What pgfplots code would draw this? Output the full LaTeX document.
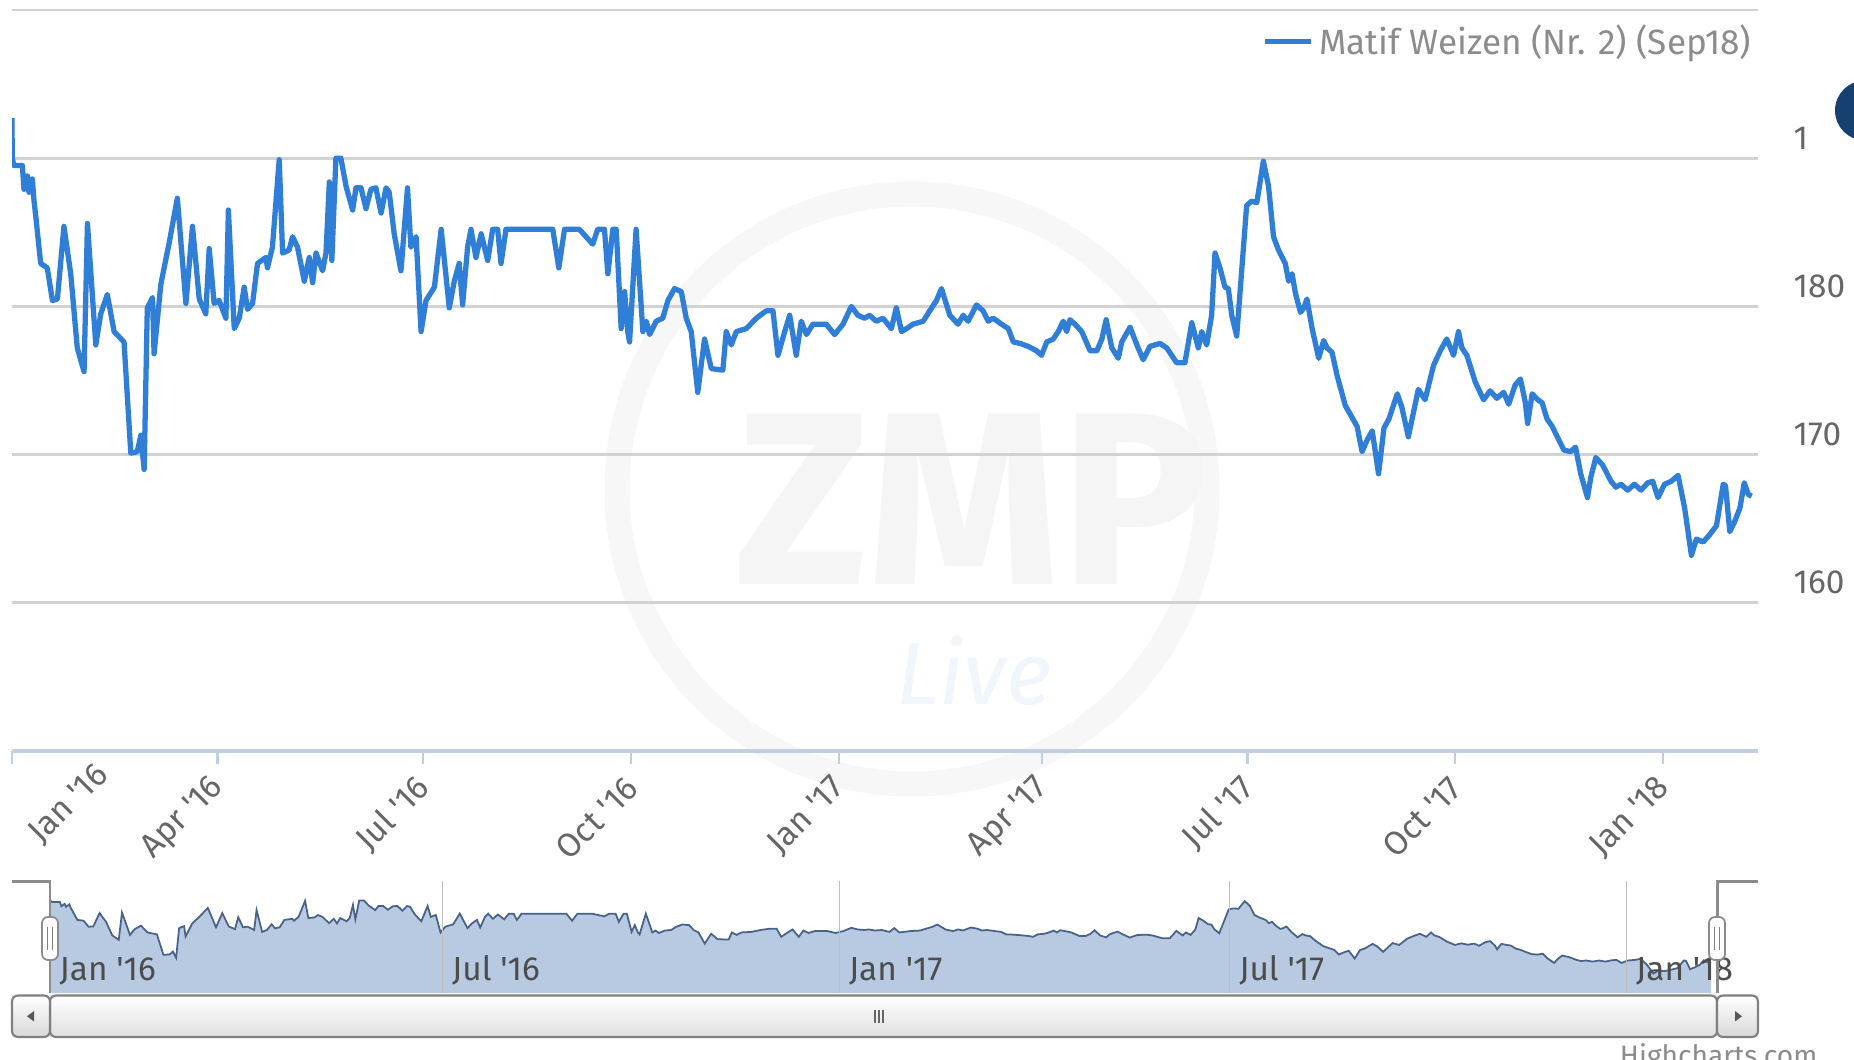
\documentclass[border=0pt]{standalone}
\usepackage{fontspec}
\setmainfont{Fira Sans}[Ligatures=TeXOff]
\usepackage{pgfplots}
\usepackage{pgfplotstable}
\pgfplotsset{compat=1.18}

\definecolor{hcblue}{RGB}{47,126,216}
\definecolor{gridgray}{RGB}{210,210,210}
\definecolor{axisblue}{RGB}{192,208,224}
\definecolor{labelgray}{RGB}{102,102,102}
\definecolor{navfill}{RGB}{184,201,226}
\definecolor{navline}{RGB}{72,98,138}
\definecolor{navy}{RGB}{22,64,112}

% day = days since 1 Jan 2016, price in EUR/t
\pgfplotstableread{
day price
0 192.7
0.1 190.0
0.9 189.5
4.6 189.5
5.3 187.9
6.8 188.8
7.5 187.7
9.0 188.6
9.7 187.2
10.5 186.1
12.7 182.9
15.6 182.6
17.9 180.4
20.1 180.5
23.0 185.4
26.0 182.2
28.9 177.2
31.9 175.6
33.4 185.6
37.1 177.4
39.3 179.5
42.2 180.8
45.2 178.3
49.6 177.6
52.6 170.1
55.5 170.2
57.0 171.3
58.5 169.0
59.9 179.9
62.2 180.6
62.9 176.8
65.9 181.5
69.6 184.3
73.2 187.3
77.0 180.2
79.9 185.4
82.9 180.5
85.8 179.5
87.3 183.9
89.5 180.2
91.7 180.4
94.7 179.2
95.8 186.5
98.4 178.5
100.6 179.2
102.8 181.3
104.3 179.8
106.5 180.2
108.7 182.9
112.4 183.3
113.1 182.6
115.3 184.0
118.3 189.9
119.8 183.6
122.7 183.8
124.2 184.7
126.4 184.0
129.4 181.7
131.6 183.3
133.1 181.6
134.6 183.6
137.5 182.4
139.0 183.6
140.5 188.4
141.6 183.1
143.4 190.0
145.6 190.0
147.9 188.1
150.8 186.5
152.3 188.0
154.5 188.0
156.7 186.6
158.9 187.9
161.1 188.0
163.4 186.3
165.6 188.0
167.0 187.7
169.2 184.9
172.2 182.4
175.1 188.0
176.6 184.0
178.9 184.7
181.1 178.3
183.3 180.4
187.0 181.3
190.0 185.2
193.6 179.9
195.8 181.7
198.0 182.9
199.5 180.1
201.7 184.0
203.2 185.2
205.4 183.3
207.7 184.9
210.6 183.1
212.8 185.2
215.0 185.2
216.5 182.9
218.7 185.2
239.4 185.2
242.1 182.6
244.6 185.2
251.2 185.2
257.1 184.2
259.3 185.2
262.3 185.2
263.8 182.2
266.0 185.2
267.5 185.2
269.7 178.5
271.2 181.0
272.6 178.3
273.4 177.6
274.1 179.4
276.3 185.2
279.3 178.3
280.8 179.0
282.3 178.1
285.2 179.0
288.1 179.2
290.4 180.4
293.3 181.2
296.3 181.0
298.5 179.2
300.7 178.3
303.6 174.2
306.6 177.8
309.6 175.8
314.7 175.7
316.2 178.3
318.4 177.4
320.7 178.3
325.1 178.5
329.5 179.2
333.9 179.7
336.9 179.7
339.1 176.7
342.1 178.3
344.3 179.4
347.2 176.7
349.4 179.0
351.7 178.1
354.6 178.8
360.5 178.8
364.2 178.1
367.9 178.8
371.6 180.0
374.5 179.4
377.5 179.2
379.7 179.4
382.6 179.0
385.6 179.2
389.3 178.5
391.5 179.9
393.8 178.3
396.0 178.5
398.9 178.8
403.4 179.0
406.3 179.7
409.3 180.4
411.5 181.2
415.2 179.4
418.8 178.8
421.1 179.4
423.3 179.0
427.0 180.1
429.9 179.7
432.2 179.0
434.4 179.2
438.1 178.8
441.1 178.5
443.3 177.6
446.3 177.5
449.9 177.3
453.6 177.0
455.8 176.7
458.1 177.6
461.0 177.8
463.2 178.3
465.4 179.0
466.9 178.3
468.4 179.1
470.6 178.8
473.6 178.3
477.3 177.0
480.3 177.0
482.5 177.8
484.4 179.1
486.9 177.2
489.8 176.5
491.3 177.6
495.0 178.6
498.0 177.4
500.8 176.4
503.8 177.3
508.2 177.5
511.2 177.2
515.6 176.2
519.3 176.2
522.3 178.9
525.2 177.2
526.7 178.3
528.9 177.4
531.1 179.4
532.6 183.6
534.8 182.6
537.0 181.3
538.5 181.2
540.0 179.4
542.2 178.0
546.6 186.8
548.8 187.1
551.1 187.0
554.0 189.8
556.3 188.1
558.5 184.7
560.7 183.8
563.7 182.9
565.2 181.7
566.7 182.2
568.2 180.9
570.4 179.6
571.9 179.9
573.3 180.5
575.6 178.5
578.5 176.5
580.7 177.7
582.2 177.2
584.4 176.9
586.7 175.3
590.3 173.3
595.5 171.9
597.7 170.2
600.0 171.0
602.2 171.6
605.0 168.7
607.4 171.8
609.6 172.4
613.3 174.1
615.3 173.2
618.2 171.2
620.4 172.8
622.6 174.4
625.6 173.7
629.3 176.0
632.3 177.0
635.2 177.8
638.2 176.7
640.4 178.3
641.9 177.2
644.1 176.7
647.8 174.9
651.5 173.7
654.4 174.3
657.4 173.8
660.4 174.2
662.6 173.4
665.5 174.7
667.8 175.1
670.0 173.5
671.0 172.1
673.0 174.1
675.5 173.7
677.4 173.5
679.6 172.4
681.9 171.9
684.1 171.2
687.1 170.3
690.0 170.2
692.2 170.5
694.5 168.7
697.5 167.1
699.0 168.5
701.2 169.8
704.2 169.3
707.9 168.2
710.1 167.8
712.3 168.0
715.3 167.6
718.3 168.0
721.2 167.6
724.2 168.1
726.4 168.2
728.7 167.1
731.6 168.0
734.6 168.2
737.6 168.6
740.5 166.4
743.5 163.2
745.7 164.3
748.7 164.1
751.6 164.6
754.6 165.2
757.6 168.0
758.6 167.9
760.5 164.8
762.7 165.5
765.0 166.4
766.9 168.1
768.7 167.3
770.2 167.2
}\weizen

\begin{document}
\begin{tikzpicture}[x=1mm,y=1mm]
\fill[white] (0,0) rectangle (185.4,106);
\useasboundingbox (0,0) rectangle (185.4,106);

% faint watermark
\draw[black!3, line width=2.5mm] (91.2,57.1) circle (29.5);
\node[text=black!4, font=\fontsize{70}{70}\selectfont\bfseries] at (97.2,56.1) {ZMP};
\node[text=hcblue!7, font=\fontsize{25}{25}\selectfont\itshape] at (97.4,38.9) {Live};

% main chart
\begin{axis}[
    at={(1.2mm,30.9mm)}, anchor=south west,
    width=174.6mm, height=74.1mm, scale only axis,
    xmin=0, xmax=773, ymin=150, ymax=200,
    axis x line*=bottom, axis y line*=right,
    x axis line style={axisblue, line width=1pt, -},
    y axis line style={draw=none},
    ytick={160,170,180,190,200},
    yticklabels={160,170,180,1,},
    ytick style={draw=none},
    ymajorgrids, grid style={gridgray, line width=0.85pt},
    yticklabel style={anchor=west, inner sep=0pt, xshift=2.2mm, yshift=2mm,
        text=labelgray, font=\fontsize{9.5}{11}\selectfont},
    xtick={0,91,182,274,366,456,547,639,731},
    xticklabels={,Apr '16,Jul '16,Oct '16,Jan '17,Apr '17,Jul '17,Oct '17,Jan '18},
    extra x ticks={40},
    extra x tick labels={Jan '16},
    extra x tick style={major tick length=0pt},
    x tick style={axisblue, line width=0.6pt},
    tick align=outside, major tick length=1.3mm,
    xticklabel style={rotate=45, anchor=east, inner sep=0pt, xshift=-1.2mm, yshift=-1.4mm,
        text=labelgray, font=\fontsize{9.5}{11}\selectfont},
    legend style={at={(1,0.957)}, anchor=east, draw=none, fill=none, inner sep=0pt,
        nodes={inner sep=0.6mm}, text=black!45, font=\fontsize{10}{12}\selectfont},
    legend image code/.code={\draw[hcblue, line width=1.4pt] (-0.6mm,0mm) -- (4.0mm,0mm);},
]
\addplot[hcblue, line width=1.5pt, line join=round] table[x=day, y=price] {\weizen};
\addlegendentry{Matif Weizen (Nr. 2) (Sep18)}
\end{axis}

% navigator
\begin{axis}[
    at={(1.2mm,6.68mm)}, anchor=south west,
    width=174.6mm, height=11.17mm, scale only axis,
    xmin=-17.6, xmax=792, ymin=156, ymax=197,
    axis line style={draw=none},
    ytick=\empty,
    xtick={0,182,366,547,731},
    xticklabels={Jan '16,Jul '16,Jan '17,Jul '17,Jan '18},
    xmajorgrids, grid style={black!25, line width=0.4pt},
    major tick length=0pt,
    xticklabel style={anchor=south west, inner sep=0pt, xshift=0.9mm, yshift=0.7mm,
        text=black!70, font=\fontsize{9.5}{11}\selectfont},
    axis on top,
]
\addplot[draw=none, fill=navfill] table[x=day, y=price] {\weizen} \closedcycle;
\addplot[navline, line width=0.5pt] table[x=day, y=price] {\weizen};
\end{axis}

% navigator outline and handles
\draw[black!45, line width=0.85pt] (1.2,17.85) -- (5.0,17.85) -- (5.0,6.68);
\draw[black!45, line width=0.85pt] (171.7,6.68) -- (171.7,17.85) -- (175.8,17.85);
\foreach \hx in {5.0,171.7} {
    \draw[black!45, fill=white, rounded corners=0.6mm, line width=0.5pt]
        (\hx-0.8,10.0) rectangle (\hx+0.8,14.3);
    \draw[black!50, line width=0.35pt]
        (\hx-0.25,11.0) -- (\hx-0.25,13.3) (\hx+0.25,11.0) -- (\hx+0.25,13.3);
}

% scrollbar
\fill[black!8] (1.2,2.3) rectangle (175.8,6.45);
\shade[top color=white, bottom color=black!12, draw=black!50, line width=0.6pt, rounded corners=0.6mm]
    (5.0,2.3) rectangle (171.7,6.45);
\shade[top color=white, bottom color=black!15, draw=black!50, line width=0.6pt, rounded corners=0.6mm]
    (1.2,2.3) rectangle (5.0,6.45);
\shade[top color=white, bottom color=black!15, draw=black!50, line width=0.6pt, rounded corners=0.6mm]
    (171.7,2.3) rectangle (175.8,6.45);
\fill[black!65] (2.7,4.37) -- (3.4,4.9) -- (3.4,3.85) -- cycle;
\fill[black!65] (174.2,4.37) -- (173.5,4.9) -- (173.5,3.85) -- cycle;
\draw[black!60, line width=0.4pt] (87.5,3.7) -- (87.5,5.0) (87.9,3.7) -- (87.9,5.0) (88.3,3.7) -- (88.3,5.0);

% credit and cut-off button
\node[anchor=north east, inner sep=0pt, text=black!45, font=\fontsize{8}{9}\selectfont] at (181.8,1.7) {Highcharts.com};
\fill[navy] (186.5,94.95) circle (3.0);
\end{tikzpicture}
\end{document}
